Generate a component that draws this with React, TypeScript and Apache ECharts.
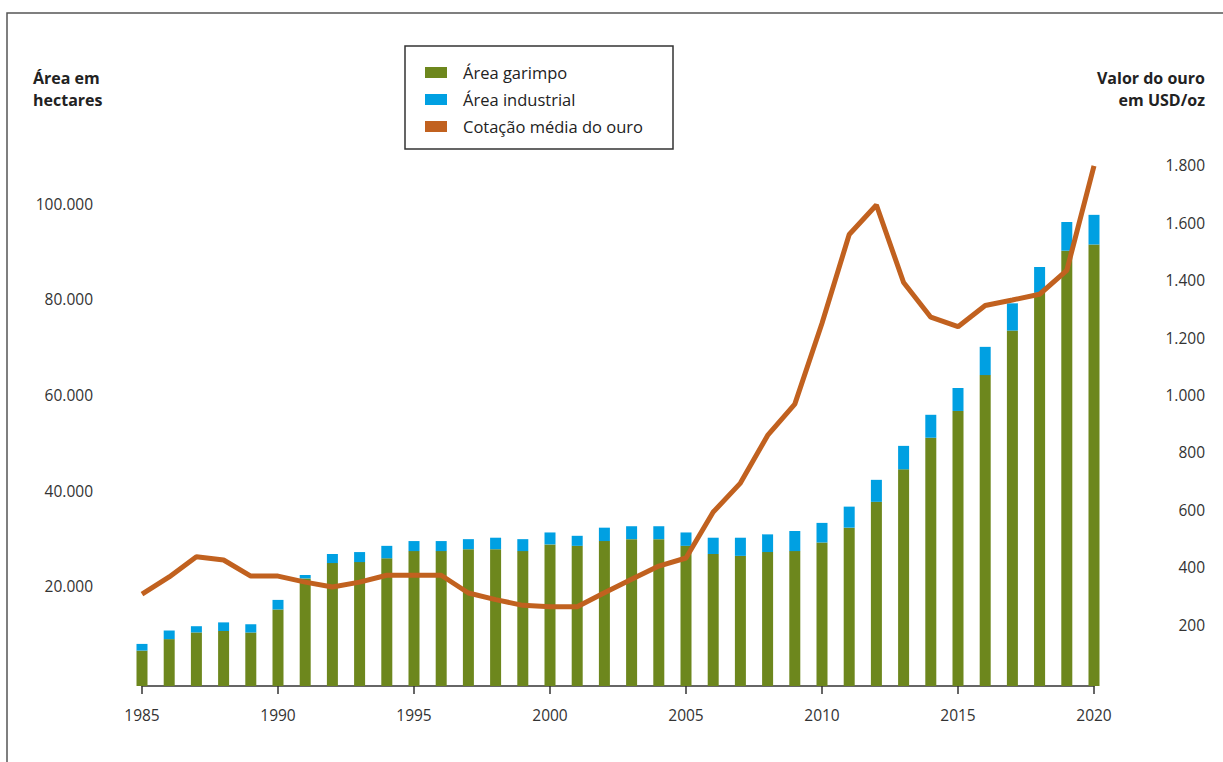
import React, { useEffect, useRef } from "react";
import * as echarts from "echarts";

const years: string[] = [];
for (let y = 1985; y <= 2020; y++) years.push(String(y));

// hectares (Área garimpo)
const garimpo = [
  7400, 9800, 11200, 11500, 11200, 16000, 22500, 25700, 25900, 26700,
  28200, 28200, 28600, 28600, 28200, 29600, 29300, 30300, 30700, 30700,
  29300, 27600, 27200, 28000, 28200, 30000, 33100, 38500, 45300, 51900,
  57500, 65000, 74300, 82200, 91000, 92300,
];

// hectares (Área industrial)
const industrial = [
  1400, 1800, 1300, 1800, 1700, 2000, 700, 1900, 2100, 2600,
  2100, 2100, 2100, 2400, 2500, 2500, 2100, 2800, 2700, 2700,
  2800, 3400, 3800, 3700, 4200, 4100, 4400, 4600, 4900, 4800,
  4800, 5900, 5700, 5400, 6000, 6200,
];

// USD/oz (Cotação média do ouro)
const ouro = [
  320, 380, 450, 439, 383, 383, 362, 345, 362, 386,
  386, 386, 324, 301, 281, 276, 276, 325, 372, 418,
  446, 606, 707, 873, 982, 1264, 1573, 1676, 1406, 1285,
  1252, 1326, 1345, 1365, 1448, 1812,
];

const GREEN = "#6d871d";
const BLUE = "#00a0e2";
const ORANGE = "#c1611f";
const FONT = "'Open Sans', 'Noto Sans', sans-serif";

const fmt = (v: number) => {
  const s = String(Math.round(v));
  return s.replace(/\B(?=(\d{3})+(?!\d))/g, ".");
};

export default function App() {
  const ref = useRef<HTMLDivElement>(null);
  useEffect(() => {
    if (!ref.current) return;
    const chart = echarts.init(ref.current, undefined, { renderer: "svg" });
    chart.setOption({
      animation: false,
      backgroundColor: "#ffffff",
      grid: { left: 142, right: 129, top: 112, bottom: 76 },
      legend: {
        orient: "vertical",
        left: 420,
        top: 59,
        icon: "rect",
        itemWidth: 22,
        itemHeight: 11,
        itemGap: 10,
        textStyle: {
          fontFamily: FONT,
          fontSize: 16.5,
          color: "#222",
          lineHeight: 17,
          padding: [0, 0, 0, 11],
        },
        data: ["Área garimpo", "Área industrial", "Cotação média do ouro"],
      },
      xAxis: {
        type: "category",
        data: years,
        boundaryGap: false,
        axisLine: { lineStyle: { color: "#333", width: 1.5 } },
        axisTick: {
          interval: 4,
          length: 8,
          lineStyle: { color: "#333", width: 1.5 },
        },
        axisLabel: {
          interval: 4,
          margin: 21,
          color: "#333",
          fontFamily: FONT,
          fontSize: 15.5,
        },
        splitLine: { show: false },
      },
      yAxis: [
        {
          type: "value",
          min: 0,
          max: 120000,
          interval: 20000,
          position: "left",
          axisLine: { show: false },
          axisTick: { show: false },
          splitLine: { show: false },
          axisLabel: {
            margin: 49,
            color: "#333",
            fontFamily: FONT,
            fontSize: 15.5,
            verticalAlign: "bottom",
            lineHeight: 8,
            formatter: (v: number) => (v === 0 || v === 120000 ? "" : fmt(v)),
          },
        },
        {
          type: "value",
          min: 0,
          max: 2000,
          interval: 200,
          position: "right",
          axisLine: { show: false },
          axisTick: { show: false },
          splitLine: { show: false },
          axisLabel: {
            margin: 111,
            align: "right",
            color: "#333",
            fontFamily: FONT,
            fontSize: 15.5,
            verticalAlign: "bottom",
            lineHeight: 8,
            formatter: (v: number) => (v === 0 || v === 2000 ? "" : fmt(v)),
          },
        },
      ],
      series: [
        {
          name: "Área garimpo",
          type: "bar",
          stack: "area",
          yAxisIndex: 0,
          barWidth: 11,
          clip: false,
          itemStyle: { color: GREEN },
          data: garimpo,
        },
        {
          name: "Área industrial",
          type: "bar",
          stack: "area",
          yAxisIndex: 0,
          barWidth: 11,
          clip: false,
          itemStyle: { color: BLUE },
          data: industrial,
        },
        {
          name: "Cotação média do ouro",
          type: "line",
          yAxisIndex: 1,
          symbol: "none",
          clip: false,
          z: 5,
          itemStyle: { color: ORANGE },
          lineStyle: { color: ORANGE, width: 5 },
          data: ouro,
        },
      ],
      graphic: [
        {
          type: "polyline",
          silent: true,
          shape: { points: [[7, 762], [7, 13], [1223, 13]] },
          style: { stroke: "#555", lineWidth: 1.5, fill: "none" },
        },
        {
          type: "rect",
          silent: true,
          shape: { x: 405, y: 46, width: 268, height: 103 },
          style: { stroke: "#333", lineWidth: 1.5, fill: "none" },
        },
        {
          type: "text",
          x: 33,
          y: 67,
          style: {
            text: "Área em\nhectares",
            fontFamily: FONT,
            fontSize: 16,
            fontWeight: "bold",
            lineHeight: 22,
            fill: "#222",
          },
        },
        {
          type: "text",
          x: 1205,
          y: 67,
          style: {
            text: "Valor do ouro\nem USD/oz",
            fontFamily: FONT,
            fontSize: 16,
            fontWeight: "bold",
            lineHeight: 22,
            align: "right",
            fill: "#222",
          },
        },
      ],
    });
    return () => chart.dispose();
  }, []);
  return (
    <div
      ref={ref}
      style={{ position: "absolute", left: 0, top: 0, width: 1223, height: 762 }}
    />
  );
}
